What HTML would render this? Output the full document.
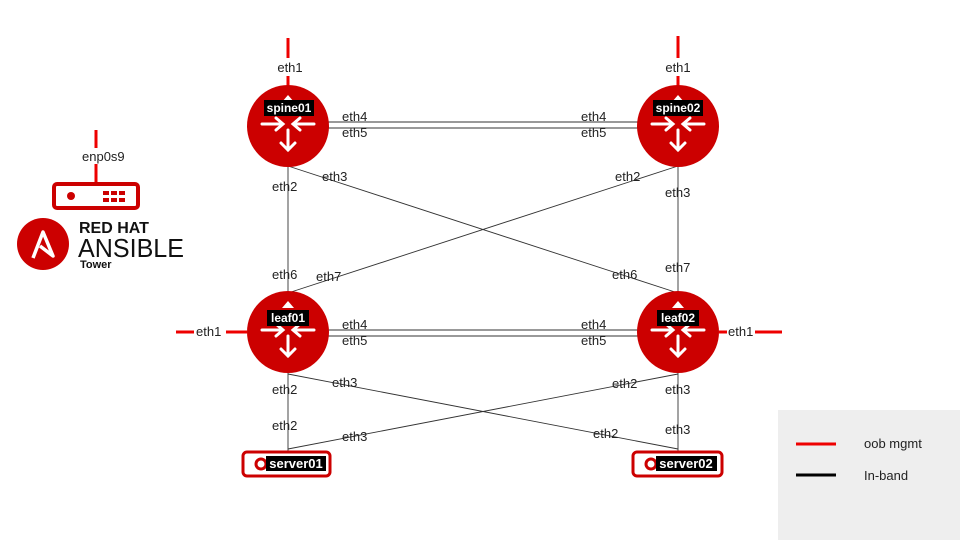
<!DOCTYPE html>
<html><head><meta charset="utf-8"><style>
body{margin:0;width:960px;height:540px;background:#fff;overflow:hidden}
text{font-family:"Liberation Sans",sans-serif}
</style></head><body>
<svg width="960" height="540" viewBox="0 0 960 540" xmlns="http://www.w3.org/2000/svg">
<defs>
<g id="rt">
<circle r="41" fill="#cc0000"/>
<g stroke="#fff" stroke-width="3" fill="none" stroke-linecap="round">
<path d="M-26,-2 H-6 M-12,-8 L-5,-2 L-12,4"/>
<path d="M26,-2 H6 M12,-8 L5,-2 L12,4"/>
<path d="M0,4 V24 M-7,17 L0,24 L7,17"/>
</g>
<path d="M-6,-24 L0,-31 L6,-24 Z" fill="#fff"/>
</g>
</defs>
<g stroke="#333" stroke-width="0.9" fill="none">
<line x1="288" y1="122" x2="678" y2="122"/>
<line x1="288" y1="128" x2="678" y2="128"/>
<line x1="288" y1="330" x2="678" y2="330"/>
<line x1="288" y1="336" x2="678" y2="336"/>
<line x1="288" y1="126" x2="288" y2="334"/>
<line x1="678" y1="126" x2="678" y2="334"/>
<line x1="288" y1="166" x2="678" y2="293"/>
<line x1="678" y1="166" x2="288" y2="293"/>
<line x1="288" y1="334" x2="288" y2="451"/>
<line x1="678" y1="334" x2="678" y2="451"/>
<line x1="288" y1="374" x2="678" y2="449"/>
<line x1="678" y1="374" x2="288" y2="449"/>
</g>
<g stroke="#e00" stroke-width="3">
<line x1="288" y1="38" x2="288" y2="58"/><line x1="288" y1="76" x2="288" y2="86"/>
<line x1="678" y1="36" x2="678" y2="58"/><line x1="678" y1="76" x2="678" y2="86"/>
<line x1="176" y1="332" x2="194" y2="332"/><line x1="226" y1="332" x2="247" y2="332"/>
<line x1="719" y1="332" x2="727" y2="332"/><line x1="755" y1="332" x2="782" y2="332"/>
<line x1="96" y1="130" x2="96" y2="148"/><line x1="96" y1="164" x2="96" y2="184"/>
</g>
<use href="#rt" x="288" y="126"/>
<use href="#rt" x="678" y="126"/>
<use href="#rt" x="288" y="332"/>
<use href="#rt" x="678" y="332"/>
<g font-size="12" font-weight="bold" fill="#fff">
<rect x="264" y="100" width="50" height="16" fill="#000"/><text x="289" y="112" text-anchor="middle">spine01</text>
<rect x="653" y="100" width="50" height="16" fill="#000"/><text x="678" y="112" text-anchor="middle">spine02</text>
<rect x="267" y="310" width="42" height="16" fill="#000"/><text x="288" y="322" text-anchor="middle">leaf01</text>
<rect x="657" y="310" width="42" height="16" fill="#000"/><text x="678" y="322" text-anchor="middle">leaf02</text>
</g>
<g>
<rect x="243" y="452" width="87" height="24" rx="4" fill="#fff" stroke="#cc0000" stroke-width="3"/>
<circle cx="261" cy="464" r="5" fill="#fff" stroke="#cc0000" stroke-width="3"/>
<rect x="266" y="456" width="60" height="15" fill="#000"/>
<text x="296" y="468" font-size="13" font-weight="bold" fill="#fff" text-anchor="middle">server01</text>
<rect x="633" y="452" width="89" height="24" rx="4" fill="#fff" stroke="#cc0000" stroke-width="3"/>
<circle cx="651" cy="464" r="5" fill="#fff" stroke="#cc0000" stroke-width="3"/>
<rect x="656" y="456" width="61" height="15" fill="#000"/>
<text x="686" y="468" font-size="13" font-weight="bold" fill="#fff" text-anchor="middle">server02</text>
</g>
<g font-size="13" fill="#222">
<text x="290" y="72" text-anchor="middle">eth1</text>
<text x="678" y="72" text-anchor="middle">eth1</text>
<text x="342" y="121">eth4</text><text x="342" y="137">eth5</text>
<text x="581" y="121">eth4</text><text x="581" y="137">eth5</text>
<text x="272" y="191">eth2</text><text x="322" y="181">eth3</text>
<text x="615" y="181">eth2</text><text x="665" y="197">eth3</text>
<text x="272" y="279">eth6</text><text x="316" y="281">eth7</text>
<text x="612" y="279">eth6</text><text x="665" y="272">eth7</text>
<text x="196" y="336">eth1</text><text x="728" y="336">eth1</text>
<text x="342" y="329">eth4</text><text x="342" y="345">eth5</text>
<text x="581" y="329">eth4</text><text x="581" y="345">eth5</text>
<text x="272" y="394">eth2</text><text x="332" y="387">eth3</text>
<text x="612" y="388">eth2</text><text x="665" y="394">eth3</text>
<text x="272" y="430">eth2</text><text x="342" y="441">eth3</text>
<text x="593" y="438">eth2</text><text x="665" y="434">eth3</text>
<text x="82" y="161">enp0s9</text>
</g>
<rect x="54" y="184" width="84" height="24" rx="3" fill="#fff" stroke="#cc0000" stroke-width="4"/>
<circle cx="71" cy="196" r="4" fill="#cc0000"/>
<g fill="#cc0000"><rect x="103" y="191" width="6" height="4"/><rect x="111" y="191" width="6" height="4"/><rect x="119" y="191" width="6" height="4"/>
<rect x="103" y="198" width="6" height="4"/><rect x="111" y="198" width="6" height="4"/><rect x="119" y="198" width="6" height="4"/></g>
<circle cx="43" cy="244" r="26" fill="#cc0000"/>
<path d="M33,258 L43,232 L53,256 L40,246" stroke="#fff" stroke-width="3.5" fill="none" stroke-linejoin="round"/>
<text x="79" y="233" font-size="16" font-weight="bold" fill="#111">RED HAT</text>
<text x="78" y="257" font-size="26" fill="#111" textLength="106" lengthAdjust="spacingAndGlyphs">ANSIBLE</text>
<text x="80" y="268" font-size="11" font-weight="bold" fill="#111">Tower</text>
<rect x="778" y="410" width="182" height="130" fill="#eee"/>
<line x1="796" y1="444" x2="836" y2="444" stroke="#e00" stroke-width="3"/>
<line x1="796" y1="475" x2="836" y2="475" stroke="#000" stroke-width="3"/>
<text x="864" y="448" font-size="13" fill="#222">oob mgmt</text>
<text x="864" y="480" font-size="13" fill="#222">In-band</text>
</svg>
</body></html>
